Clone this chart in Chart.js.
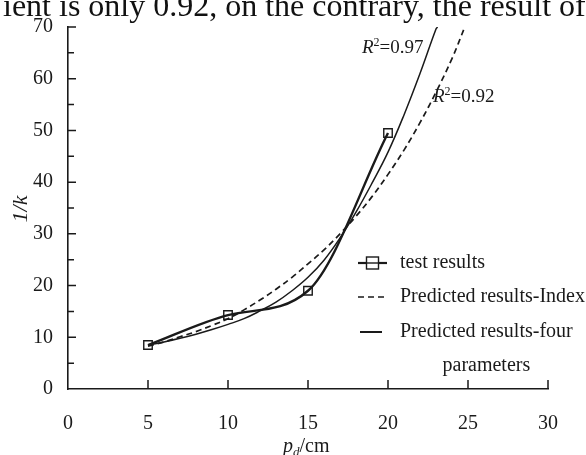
<!DOCTYPE html>
<html>
<head>
<meta charset="utf-8">
<script src="https://cdn.jsdelivr.net/npm/chart.js@4.4.0/dist/chart.umd.min.js"></script>
<style>
  html, body { margin: 0; padding: 0; background: #fff; }
  #wrap { position: relative; width: 586px; height: 455px; overflow: hidden; }
  #para {
    position: absolute; left: 3px; top: -11px;
    font: 32px/32px "Liberation Serif", serif; color: #111; white-space: nowrap;
  }
  canvas { position: absolute; left: 0; top: 0; }
</style>
</head>
<body>
<div id="wrap">
  <canvas id="chart" width="586" height="455"></canvas>
  <div id="para">ient is only 0.92, on the contrary, the result of</div>
</div>
<script>
// ---------- dati ----------
const testX = [5, 10, 15, 20];
const testY = [8.5, 14.3, 19.0, 49.5];

// curva esponenziale (R2 = 0.92)
const indexX = [5, 6, 7, 8, 9, 10, 11, 12, 13, 14, 15, 16, 17, 18, 19, 20, 21, 22, 23, 24, 24.8];
const indexY = [8.3, 9.1, 10.1, 11.1, 12.3, 13.6, 15.3, 17.2, 19.3, 21.6, 24.2, 26.9, 30.0, 33.4, 37.2, 41.5, 46.2, 51.5, 57.4, 63.9, 70];

// curva a quattro parametri (R2 = 0.97)
const fourX = [5, 6, 7, 8, 9, 10, 11, 12, 13, 14, 15, 16, 17, 18, 19, 20, 21, 22, 23, 23.1];
const fourY = [8.5, 9.1, 9.8, 10.6, 11.5, 12.5, 13.6, 15.1, 16.8, 19.0, 21.6, 24.9, 29.2, 34.2, 39.8, 45.8, 53.0, 61.0, 69.6, 70];

const xTicks = [0, 5, 10, 15, 20, 25, 30];
const yTicks = [0, 10, 20, 30, 40, 50, 60, 70];
const yMinor = [5, 15, 25, 35, 45, 55, 65];

const legendLabels = ["test results", "Predicted results-Index", "Predicted results-four", "parameters"];
const r2Labels = ["0.97", "0.92"];

const SERIF = '"Liberation Serif", "Times New Roman", serif';
const INK = "#1a1a1a";

const pts = (xs, ys) => xs.map((x, i) => ({ x, y: ys[i] }));

// ---------- decorazioni: tacche interne, legenda, titoli ----------
const decor = {
  id: "decor",
  afterDraw(chart) {
    const { ctx, scales: { x, y }, chartArea: a } = chart;
    ctx.save();
    ctx.strokeStyle = INK;
    ctx.fillStyle = INK;

    // tacche verso l'interno
    ctx.lineWidth = 1.5;
    ctx.beginPath();
    xTicks.slice(1).forEach((v) => {
      const px = x.getPixelForValue(v);
      ctx.moveTo(px, a.bottom);
      ctx.lineTo(px, a.bottom - 9);
    });
    yTicks.slice(1).forEach((v) => {
      const py = y.getPixelForValue(v);
      ctx.moveTo(a.left, py);
      ctx.lineTo(a.left + 8, py);
    });
    yMinor.forEach((v) => {
      const py = y.getPixelForValue(v);
      ctx.moveTo(a.left, py);
      ctx.lineTo(a.left + 6, py);
    });
    ctx.stroke();

    // legenda
    ctx.textBaseline = "middle";
    ctx.textAlign = "left";
    ctx.font = `20px ${SERIF}`;

    ctx.lineWidth = 2.2;
    ctx.beginPath();
    ctx.moveTo(358, 263);
    ctx.lineTo(387, 263);
    ctx.stroke();
    ctx.lineWidth = 1.4;
    ctx.fillStyle = "#fff";
    ctx.fillRect(366.5, 257, 12, 12);
    ctx.strokeRect(366.5, 257, 12, 12);
    ctx.beginPath();
    ctx.moveTo(366.5, 263);
    ctx.lineTo(378.5, 263);
    ctx.stroke();
    ctx.fillStyle = INK;
    ctx.fillText(legendLabels[0], 400, 263);

    ctx.lineWidth = 1.7;
    ctx.setLineDash([6, 4]);
    ctx.beginPath();
    ctx.moveTo(358, 297);
    ctx.lineTo(384, 297);
    ctx.stroke();
    ctx.setLineDash([]);
    ctx.fillText(legendLabels[1], 400, 297);

    ctx.lineWidth = 2;
    ctx.beginPath();
    ctx.moveTo(360, 332);
    ctx.lineTo(382, 332);
    ctx.stroke();
    ctx.fillText(legendLabels[2], 400, 332);
    const w3 = ctx.measureText(legendLabels[2]).width;
    ctx.textAlign = "center";
    ctx.fillText(legendLabels[3], 400 + w3 / 2, 366);

    // etichette R2
    const r2 = (txt, x0, yc) => {
      ctx.textAlign = "left";
      ctx.font = `italic 19px ${SERIF}`;
      ctx.fillText("R", x0, yc);
      let cx = x0 + ctx.measureText("R").width;
      ctx.font = `12px ${SERIF}`;
      ctx.fillText("2", cx, yc - 5);
      cx += ctx.measureText("2").width;
      ctx.font = `19px ${SERIF}`;
      ctx.fillText("=" + txt, cx, yc);
    };
    r2(r2Labels[0], 362, 48);
    r2(r2Labels[1], 433, 97);

    // titolo asse y
    ctx.save();
    ctx.translate(21, 209);
    ctx.rotate(-Math.PI / 2);
    ctx.textAlign = "center";
    ctx.font = `italic 22px ${SERIF}`;
    ctx.fillText("1/k", 0, 0);
    ctx.restore();

    // titolo asse x: p_d/cm
    ctx.textBaseline = "alphabetic";
    ctx.textAlign = "left";
    let tx = 283;
    const base = 452;
    ctx.font = `italic 20px ${SERIF}`;
    ctx.fillText("p", tx, base);
    tx += ctx.measureText("p").width;
    ctx.font = `italic 13px ${SERIF}`;
    ctx.fillText("d", tx, base + 4);
    tx += ctx.measureText("d").width;
    ctx.font = `20px ${SERIF}`;
    ctx.fillText("/cm", tx, base);

    ctx.restore();
  },
};

new Chart(document.getElementById("chart"), {
  type: "scatter",
  data: {
    datasets: [
      {
        label: "test results",
        data: pts(testX, testY),
        showLine: true,
        cubicInterpolationMode: "monotone",
        borderColor: INK,
        borderWidth: 2.4,
        pointStyle: "rect",
        pointRadius: 6,
        pointBorderWidth: 1.4,
        pointBorderColor: INK,
        pointBackgroundColor: "rgba(255,255,255,0)",
        order: 0,
      },
      {
        label: "Predicted results-Index",
        data: pts(indexX, indexY),
        showLine: true,
        tension: 0.4,
        borderColor: INK,
        borderWidth: 1.7,
        borderDash: [6, 4],
        pointRadius: 0,
        order: 2,
      },
      {
        label: "Predicted results-four parameters",
        data: pts(fourX, fourY),
        showLine: true,
        tension: 0.4,
        borderColor: INK,
        borderWidth: 1.5,
        pointRadius: 0,
        order: 1,
      },
    ],
  },
  options: {
    responsive: false,
    animation: false,
    events: [],
    layout: { padding: { top: 22, right: 38, left: 0, bottom: 0 } },
    plugins: { legend: { display: false }, tooltip: { enabled: false } },
    scales: {
      x: {
        type: "linear",
        min: 0,
        max: 30,
        afterBuildTicks: (s) => { s.ticks = xTicks.map((v) => ({ value: v })); },
        afterFit: (s) => { s.height = 66; },
        grid: { display: false, drawTicks: false },
        border: { display: true, color: INK, width: 1.6 },
        ticks: { color: INK, padding: 23, maxRotation: 0, font: { family: SERIF, size: 20 } },
      },
      y: {
        min: 0,
        max: 70,
        afterBuildTicks: (s) => { s.ticks = yTicks.map((v) => ({ value: v })); },
        afterFit: (s) => { s.width = 68; },
        grid: { display: false, drawTicks: false },
        border: { display: true, color: INK, width: 1.6 },
        ticks: { color: INK, padding: 15, font: { family: SERIF, size: 20 } },
      },
    },
  },
  plugins: [decor],
});
</script>
</body>
</html>
